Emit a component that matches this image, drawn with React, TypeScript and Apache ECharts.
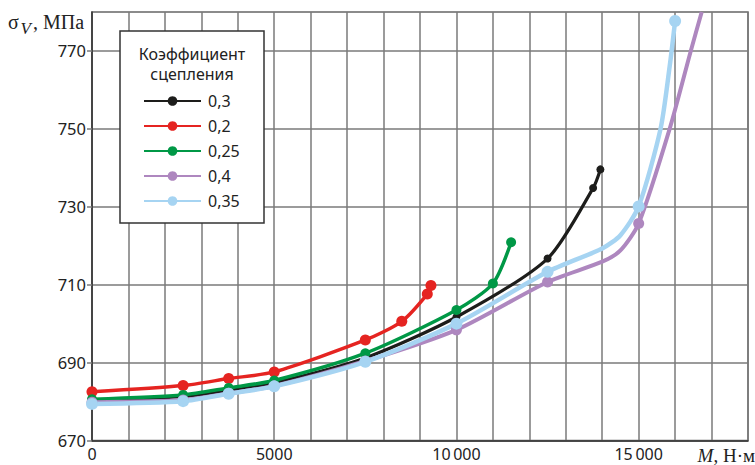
import React, { useEffect, useRef } from "react";
import * as echarts from "echarts";

// [M, sigma, marked(1) / curve-shape only(0)]
const black03: number[][] = [
  [0, 680.1, 1], [2500, 681.3, 1], [3750, 682.8, 1], [5000, 684.8, 1], [7500, 691.2, 1],
  [10000, 701.7, 1], [12500, 716.7, 1], [13750, 734.8, 1], [13950, 739.6, 1],
];
const red02: number[][] = [
  [0, 682.5, 1], [2500, 684.1, 1], [3750, 685.9, 1], [5000, 687.6, 1], [7500, 695.8, 1],
  [8500, 700.6, 1], [9200, 707.6, 1], [9300, 709.8, 1],
];
const green025: number[][] = [
  [0, 680.6, 1], [2500, 681.7, 1], [3750, 683.5, 1], [5000, 685.4, 1], [7500, 692.4, 1],
  [10000, 703.5, 1], [11000, 710.3, 1], [11500, 720.9, 1],
];
const purple04: number[][] = [
  [0, 679.8, 1], [2500, 680.4, 1], [3750, 682.1, 1], [5000, 684.0, 1], [7500, 690.4, 1],
  [10000, 698.4, 1], [12500, 710.7, 1], [14000, 715.9, 0], [14500, 718.8, 0], [15000, 725.7, 1],
  [15850, 750, 0], [16430, 770, 0], [16730, 780, 0],
];
const blue035: number[][] = [
  [0, 679.4, 1], [2500, 680.1, 1], [3750, 682.0, 1], [5000, 683.9, 1], [7500, 690.2, 1],
  [10000, 700.0, 1], [12500, 713.3, 1], [14000, 719.3, 0], [14500, 722.7, 0], [15000, 730.1, 1],
  [15600, 750, 0], [15850, 766, 0], [16000, 777.7, 1],
];

const seriesNames = ["0,3", "0,2", "0,25", "0,4", "0,35"];
const seriesData = [black03, red02, green025, purple04, blue035];
const colors = ["#1d1d1b", "#e52421", "#009846", "#ae87bf", "#a6d4f2"];
const lineWidths = [3.2, 3.5, 3.5, 4, 4.5];
const symbolSizes = [8, 11, 10, 11, 12];

const xLabelValues = [0, 5000, 10000, 15000];
const xLabelTexts = ["0", "5000", "10\u2009000", "15\u2009000"];
const yLabelValues = [670, 690, 710, 730, 750, 770];

const legendTitle = "Коэффициент\nсцепления";
const sans = "Noto Sans";
const serif = "Liberation Serif";

export default function App() {
  const ref = useRef<HTMLDivElement>(null);
  useEffect(() => {
    if (!ref.current) return;
    const chart = echarts.init(ref.current, null, { renderer: "svg" });
    const option: any = {
      animation: false,
      grid: {
        left: 92, top: 12, right: 7, bottom: 24.5,
        show: true, borderColor: "#666", borderWidth: 1.5,
      },
      legend: {
        orient: "vertical",
        left: 143, top: 93, padding: 0,
        itemWidth: 57, itemHeight: 12, itemGap: 9,
        selectedMode: false,
        data: seriesNames,
        textStyle: { fontFamily: sans, fontSize: 16, color: "#222", lineHeight: 16, padding: [0, 0, 0, 2] },
        z: 6,
      },
      xAxis: {
        type: "value", min: 0, max: 18000, interval: 1000,
        axisLine: { show: true, lineStyle: { color: "#333", width: 1.5 } },
        axisTick: { show: false },
        splitLine: { show: true, lineStyle: { color: "#7a7a7a", width: 1.5 } },
        axisLabel: {
          margin: 5, fontFamily: sans, fontSize: 16, lineHeight: 16, color: "#222",
          formatter: (v: number) => {
            const i = xLabelValues.indexOf(v);
            return i >= 0 ? xLabelTexts[i] : "";
          },
        },
      },
      yAxis: {
        type: "value", min: 670, max: 780, interval: 20,
        axisLine: { show: true, lineStyle: { color: "#333", width: 1.5 } },
        axisTick: { show: true, length: 5, customValues: yLabelValues, lineStyle: { color: "#7a7a7a", width: 1.5 } },
        splitLine: { show: true, lineStyle: { color: "#7a7a7a", width: 1.5 } },
        axisLabel: {
          margin: 6, fontFamily: sans, fontSize: 16.5, color: "#222",
          showMaxLabel: false,
          formatter: (v: number) => (yLabelValues.indexOf(v) >= 0 ? String(v) : ""),
        },
      },
      series: seriesData.map((pts, i) => ({
        name: seriesNames[i],
        type: "line",
        smooth: 0.25,
        symbol: "circle",
        symbolSize: symbolSizes[i],
        color: colors[i],
        lineStyle: { color: colors[i], width: lineWidths[i] },
        itemStyle: { color: colors[i] },
        emphasis: { disabled: true },
        data: pts.map((p) => ({ value: [p[0], p[1]], symbol: p[2] ? "circle" : "none" })),
        z: 2,
      })),
      graphic: [
        {
          type: "rect", z: 3,
          shape: { x: 120, y: 31, width: 144, height: 192 },
          style: { fill: "#fff", stroke: "#333", lineWidth: 1.5 },
        },
        {
          type: "text", z: 5, x: 192, y: 64,
          style: {
            text: legendTitle, fontFamily: sans, fontSize: 16, fill: "#222",
            textAlign: "center", textVerticalAlign: "middle", lineHeight: 20,
          },
        },
        {
          type: "text", z: 5, x: 8, y: 21.7,
          style: { text: "σ", fontFamily: serif, fontSize: 20, fill: "#222", textVerticalAlign: "middle" },
        },
        {
          type: "text", z: 5, x: 20.5, y: 28.6,
          style: { text: "V", fontFamily: serif, fontStyle: "italic", fontSize: 17, fill: "#222", textVerticalAlign: "middle" },
        },
        {
          type: "text", z: 5, x: 33, y: 21.7,
          style: { text: ", МПа", fontFamily: serif, fontSize: 20, fill: "#222", textVerticalAlign: "middle" },
        },
        {
          type: "text", z: 5, x: 755, y: 455.3,
          style: {
            text: "{i|M}, Н·м", fontFamily: serif, fontSize: 19, lineHeight: 19, fill: "#222",
            textAlign: "right", textVerticalAlign: "middle",
            rich: { i: { fontFamily: serif, fontStyle: "italic", fontSize: 19, lineHeight: 19, fill: "#222" } },
          },
        },
      ],
    };
    chart.setOption(option);
    return () => chart.dispose();
  }, []);
  return <div ref={ref} style={{ position: "absolute", left: 0, top: 0, width: 755, height: 465 }} />;
}
